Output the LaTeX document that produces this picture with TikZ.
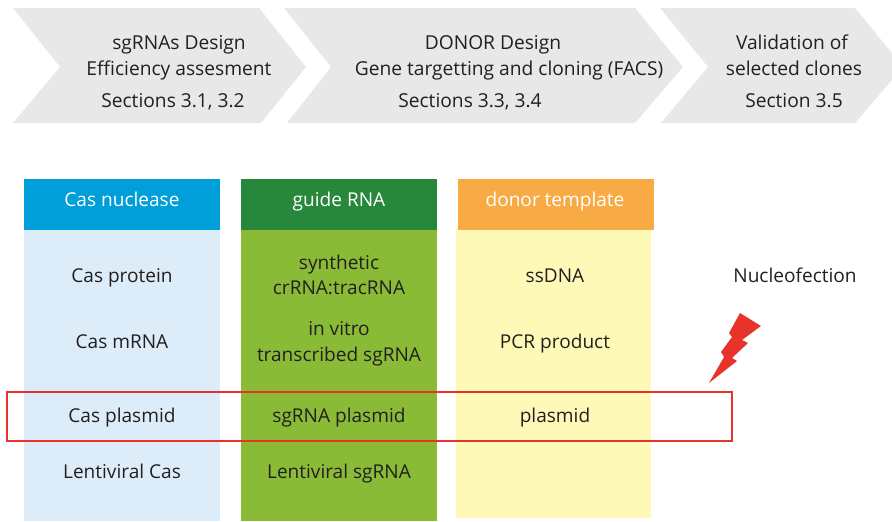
\documentclass[tikz,border=0pt]{standalone}
\usepackage[HTML]{xcolor}
\usepackage{fontspec}
\setmainfont{Open Sans}
\usetikzlibrary{positioning}
\definecolor{stepgray}{HTML}{E8E8E8}
\definecolor{casblue}{HTML}{009FD9}
\definecolor{caslight}{HTML}{DCEDF9}
\definecolor{guidegreen}{HTML}{27873B}
\definecolor{guidelight}{HTML}{8ABB37}
\definecolor{donororange}{HTML}{F8AA45}
\definecolor{donorlight}{HTML}{FFF9B8}
\definecolor{boltred}{HTML}{E7332B}
\definecolor{labeltext}{HTML}{231F20}
\tikzset{
  steptext/.style={text=labeltext, font=\fontsize{14.4}{14}\selectfont, inner sep=0pt, anchor=base},
  headtext/.style={text=white, font=\fontsize{14.3}{14}\selectfont, inner sep=0pt, anchor=base},
  celltext/.style={text=labeltext, font=\fontsize{14.3}{14}\selectfont, inner sep=0pt, anchor=base}
}
\begin{document}
\begin{tikzpicture}[x=0.75pt,y=-0.75pt]
\useasboundingbox (0,0) rectangle (892,521);
% Process chevrons
\fill[stepgray] (13,8)--(259,8)--(306,67)--(261,123)--(13,123)--(60,67)--cycle;
\fill[stepgray] (284,8)--(635,8)--(683,67)--(635,123)--(287,123)--(331,67)--cycle;
\fill[stepgray] (660,8)--(855,8)--(892,53)--(892,80)--(855,123)--(661,123)--(708,67)--cycle;
\node[steptext] (designa) at (179,49) {sgRNAs Design};
\node[steptext] (designb) at (179,75) {Efficiency assesment};
\node[steptext] (designc) at (173,107) {Sections 3.1, 3.2};
\node[steptext] (donora) at (493,49) {DONOR Design};
\node[steptext] (donorb) at (509,75) {Gene targetting and cloning (FACS)};
\node[steptext] (donorc) at (470,107) {Sections 3.3, 3.4};
\node[steptext] (valida) at (792,49) {Validation of};
\node[steptext] (validb) at (794,75) {selected clones};
\node[steptext] (validc) at (794,107) {Section 3.5};

% Columns
\fill[caslight] (24,230) rectangle (220,521);
\fill[casblue] (24,179) rectangle (220,230);
\fill[guidelight] (241,230) rectangle (437,521);
\fill[guidegreen] (241,179) rectangle (437,230);
\fill[donorlight] (456,228) rectangle (651,518);
\fill[donororange] (458,179) rectangle (654,230);
\node[headtext] (cashead) at (122,206) {Cas nuclease};
\node[headtext] (guidehead) at (339,206) {guide RNA};
\node[headtext] (donorhead) at (555,206) {donor template};

% Cas nuclease
\node[celltext] (casprotein) at (122,282) {Cas protein};
\node[celltext] (casmrna) at (122,348) {Cas mRNA};
\node[celltext] (casplasmid) at (122,422) {Cas plasmid};
\node[celltext] (caslenti) at (122,478) {Lentiviral Cas};
% guide RNA
\node[celltext] (synthetic) at (339,269) {synthetic};
\node[celltext] (crrna) at (339,294) {crRNA:tracRNA};
\node[celltext] (invitro) at (339,335) {in vitro};
\node[celltext] (transcribed) at (339,361) {transcribed sgRNA};
\node[celltext] (sgplasmid) at (339,422) {sgRNA plasmid};
\node[celltext] (sglenti) at (339,478) {Lentiviral sgRNA};
% donor template
\node[celltext] (ssdna) at (555,282) {ssDNA};
\node[celltext] (pcr) at (555,348) {PCR product};
\node[celltext] (plasmid) at (555,422) {plasmid};
\node[celltext] (nucleo) at (795,282) {Nucleofection};

% Highlight and bolt
\draw[boltred, line width=2.1pt] (7,392) rectangle (732,441);
\fill[boltred] (740,313)--(761,326)--(742,340)--(748,343)--(732,358)--(737,361)--(709,383)--(724,357)--(721,352)--(732,337)--(729,333)--cycle;
\end{tikzpicture}
\end{document}
